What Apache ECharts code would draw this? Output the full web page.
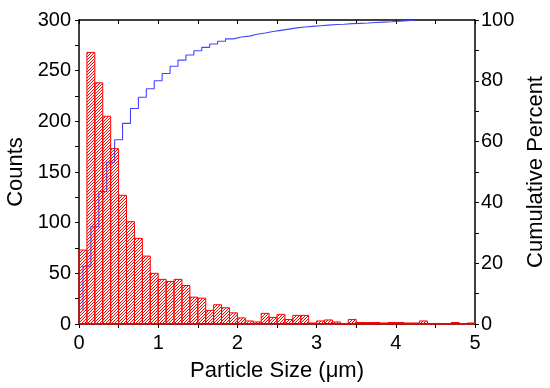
<!DOCTYPE html>
<html><head><meta charset="utf-8">
<script src="https://cdn.jsdelivr.net/npm/echarts@6/dist/echarts.min.js"></script>
<style>html,body{margin:0;padding:0;background:#fff}#c{width:550px;height:388px}</style>
</head><body><div id="c"></div>
<script>
// Histogram bins (left edges, µm) and width
const binLeft = [0.0,0.1,0.2,0.3,0.4,0.5,0.6,0.7,0.8,0.9,
                 1.0,1.1,1.2,1.3,1.4,1.5,1.6,1.7,1.8,1.9,
                 2.0,2.1,2.2,2.3,2.4,2.5,2.6,2.7,2.8,2.9,
                 3.0,3.1,3.2,3.3,3.4,3.5,3.6,3.7,3.8,3.9,
                 4.0,4.1,4.2,4.3,4.4,4.5,4.6,4.7,4.8,4.9];
const binWidth = 0.1;
const counts = [73,268,238,205,173,127,101,84.5,67,50,
                44,42,44,38,26.5,25.5,13.5,19,16,11,
                6,3,2,10.5,6.5,9.5,4.5,8.5,8.5,1,
                3,4,2,0,4.5,1.5,1.5,1.5,1,1.5,
                1.5,1,1,3,0,0,0,1.5,0,1];
// Cumulative percent, drawn at bin centres
const cumX = [0.05,0.15,0.25,0.35,0.45,0.55,0.65,0.75,0.85,0.95,
              1.05,1.15,1.25,1.35,1.45,1.55,1.65,1.75,1.85,1.95,
              2.05,2.15,2.25,2.35,2.45,2.55,2.65,2.75,2.85,2.95,
              3.05,3.15,3.25,3.35,3.45,3.55,3.65,3.75,3.85,3.95,
              4.05,4.15,4.25];
const cumPct = [4.3,19,32,43.6,53.2,60.6,66,70.9,74.6,77.4,
                80,82.4,84.8,86.8,88.5,89.9,91,92.1,93,93.8,
                94.4,94.7,95.3,95.7,96.2,96.6,97,97.4,97.7,97.9,
                98.1,98.3,98.5,98.6,98.8,98.9,99.0,99.2,99.3,99.4,
                99.6,99.8,100];
const xTitle = 'Particle Size (μm)';
const yTitle = 'Counts';
const y2Title = 'Cumulative Percent';

function hatchCanvas(){
  const s = 3;
  const c = document.createElement('canvas');
  c.width = s; c.height = s;
  const g = c.getContext('2d');
  g.strokeStyle = '#ff0000';
  g.lineWidth = 1;
  g.beginPath();
  g.moveTo(0, s); g.lineTo(s, 0);
  g.moveTo(-1, 1); g.lineTo(1, -1);
  g.moveTo(s - 1, s + 1); g.lineTo(s + 1, s - 1);
  g.stroke();
  return c;
}
const pattern = {image: hatchCanvas(), repeat: 'repeat'};

const FONT = 'Liberation Sans, Arial, sans-serif';
const axisLineStyle = {color: '#000', width: 1.5};
const chart = echarts.init(document.getElementById('c'));
chart.setOption({
  animation: false,
  backgroundColor: '#fff',
  textStyle: {fontFamily: FONT},
  grid: {left: 79, right: 75, top: 20, bottom: 64, containLabel: false, outerBoundsMode: 'none'},
  xAxis: [{
    type: 'value', position: 'bottom', min: 0, max: 5, interval: 0.5,
    axisLine: {show: true, onZero: false, lineStyle: axisLineStyle},
    axisTick: {show: true, inside: false, length: 4, lineStyle: {color: '#000', width: 1}},
    axisLabel: {fontSize: 20, color: '#000', margin: 9, fontFamily: FONT,
      formatter: v => (Math.abs(v - Math.round(v)) < 1e-6 ? String(Math.round(v)) : '')},
    splitLine: {show: false},
    name: xTitle, nameLocation: 'middle', nameGap: 36,
    nameTextStyle: {fontSize: 22, color: '#000', fontFamily: FONT}
  }, {
    type: 'value', position: 'top', min: 0, max: 5, interval: 0.5,
    axisLine: {show: true, onZero: false, lineStyle: axisLineStyle},
    axisTick: {show: true, inside: true, length: 4, lineStyle: {color: '#000', width: 1}},
    axisLabel: {show: false}, splitLine: {show: false}
  }],
  yAxis: [{
    type: 'value', position: 'left', min: 0, max: 300, interval: 25,
    axisLine: {show: true, onZero: false, lineStyle: axisLineStyle},
    axisTick: {show: true, inside: false, length: 4, lineStyle: {color: '#000', width: 1}},
    axisLabel: {fontSize: 20, color: '#000', margin: 8, fontFamily: FONT,
      formatter: v => (v % 50 === 0 ? String(v) : '')},
    splitLine: {show: false},
    name: yTitle, nameLocation: 'middle', nameGap: 51, nameRotate: 90,
    nameTextStyle: {fontSize: 22, color: '#000', fontFamily: FONT}
  }, {
    type: 'value', position: 'right', min: 0, max: 100, interval: 10,
    axisLine: {show: true, onZero: false, lineStyle: axisLineStyle},
    axisTick: {show: true, inside: false, length: 4, lineStyle: {color: '#000', width: 1}},
    axisLabel: {fontSize: 20, color: '#000', margin: 6, fontFamily: FONT,
      formatter: v => (v % 20 === 0 ? String(v) : '')},
    splitLine: {show: false},
    name: y2Title, nameLocation: 'middle', nameGap: 46, nameRotate: 90,
    nameTextStyle: {fontSize: 22, color: '#000', fontFamily: FONT}
  }],
  series: [{
    type: 'line', xAxisIndex: 0, yAxisIndex: 1, step: 'start', z: 1,
    showSymbol: false, symbol: 'none',
    lineStyle: {color: '#4444ff', width: 1.1},
    data: cumX.map((x, i) => [x, cumPct[i]])
  }, {
    type: 'custom', xAxisIndex: 0, yAxisIndex: 0, z: 2,
    encode: {x: [0, 1], y: 2},
    data: binLeft.map((l, i) => [l, +(l + binWidth).toFixed(2), counts[i]]),
    renderItem: function (params, api) {
      const p0 = api.coord([api.value(0), api.value(2)]);
      const p1 = api.coord([api.value(1), 0]);
      return {
        type: 'rect',
        shape: {x: p0[0], y: p0[1], width: p1[0] - p0[0], height: p1[1] - p0[1]},
        style: {fill: pattern, stroke: '#ff0000', lineWidth: 1}
      };
    }
  }]
});
</script>
</body></html>
